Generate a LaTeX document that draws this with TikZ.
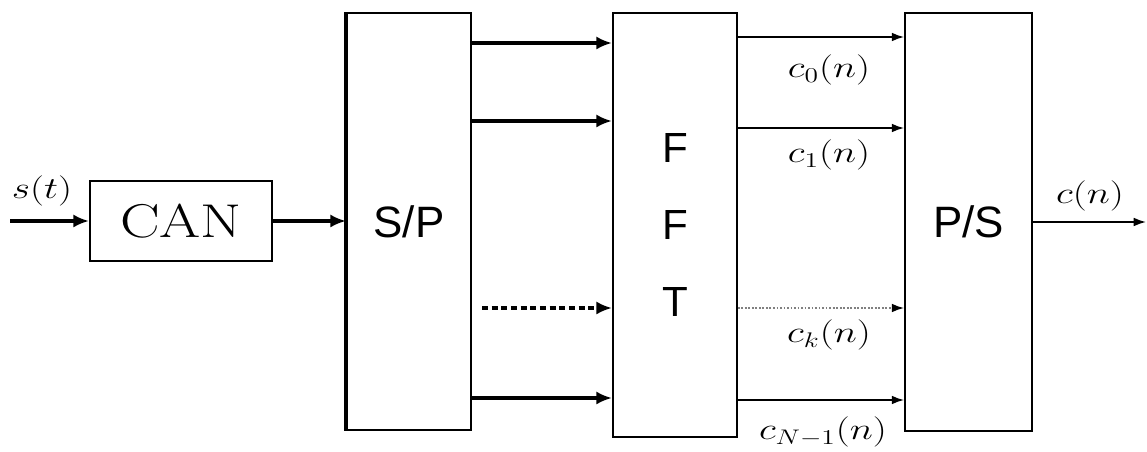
\documentclass[tikz,border=0pt]{standalone}
\usepackage{fontspec}
\usepackage{graphicx}
\usetikzlibrary{arrows.meta}
\newfontfamily\blockfont{Liberation Sans}
\newcommand{\wide}[1]{\scalebox{1.3}[1]{#1}}

\begin{document}
\begin{tikzpicture}[x=0.02cm, y=-0.02cm,
    block/.style={draw, rectangle, line width=1pt, inner sep=0pt, font=\fontsize{25}{30}\selectfont\blockfont},
    thickarr/.style={line width=2.4pt, -{Latex[length=9pt, width=7.5pt]}},
    thinarr/.style={line width=1pt, -{Latex[length=7pt, width=5pt]}},
    lbl/.style={font=\fontsize{18}{20}\selectfont}]
    \useasboundingbox (0,0) rectangle (1147,452);

    % blocks
    \node[block, minimum width=3.64cm, minimum height=1.6cm, font=\fontsize{27}{30}\selectfont] (can) at (181,221) {\scalebox{1.25}[1]{CAN}};
    \node[block, minimum width=2.48cm, minimum height=8.34cm] (sp) at (409,221.5) {S/P};
    \node[block, minimum width=2.48cm, minimum height=8.48cm, align=center, font=\fontsize{24}{43.7}\selectfont\blockfont] (fft) at (675,225) {F\\F\\T};
    \node[block, minimum width=2.54cm, minimum height=8.36cm] (ps) at (968.5,222) {P/S};
    \draw[line width=2.4pt] (sp.north west) -- (sp.south west);

    % input and output
    \coordinate (in) at (10,221);
    \coordinate (out) at (1146,222);
    \draw[thickarr] (in) -- (can.west);
    \node[lbl] (st) at (42,191) {\wide{$s(t)$}};
    \draw[thickarr] (can.east) -- (sp.west |- can.east);
    \draw[thinarr] (ps.east |- out) -- (out);
    \node[lbl] (cn) at (1090,196) {\wide{$c(n)$}};

    % S/P to FFT
    \draw[thickarr] (sp.east |- 0,43) -- (fft.west |- 0,43);
    \draw[thickarr] (sp.east |- 0,121) -- (fft.west |- 0,121);
    \coordinate (dots) at (482,308);
    \draw[thickarr, dash pattern=on 3.5pt off 2pt] (dots) -- (fft.west |- dots);
    \draw[thickarr] (sp.east |- 0,398) -- (fft.west |- 0,398);

    % FFT to P/S
    \draw[thinarr] (fft.east |- 0,37) -- (ps.west |- 0,37);
    \draw[thinarr] (fft.east |- 0,128) -- (ps.west |- 0,128);
    \draw[thinarr, gray, densely dotted, -{Latex[length=7pt, width=5pt, black]}] (fft.east |- 0,308) -- (ps.west |- 0,308);
    \draw[thinarr] (fft.east |- 0,400) -- (ps.west |- 0,400);

    \node[lbl] (c0) at (829,70) {\wide{$c_0(n)$}};
    \node[lbl] (c1) at (829,155) {\wide{$c_1(n)$}};
    \node[lbl] (ck) at (829,335) {\wide{$c_k(n)$}};
    \node[lbl] (cN) at (823,432) {\wide{$c_{N-1}(n)$}};
\end{tikzpicture}
\end{document}
